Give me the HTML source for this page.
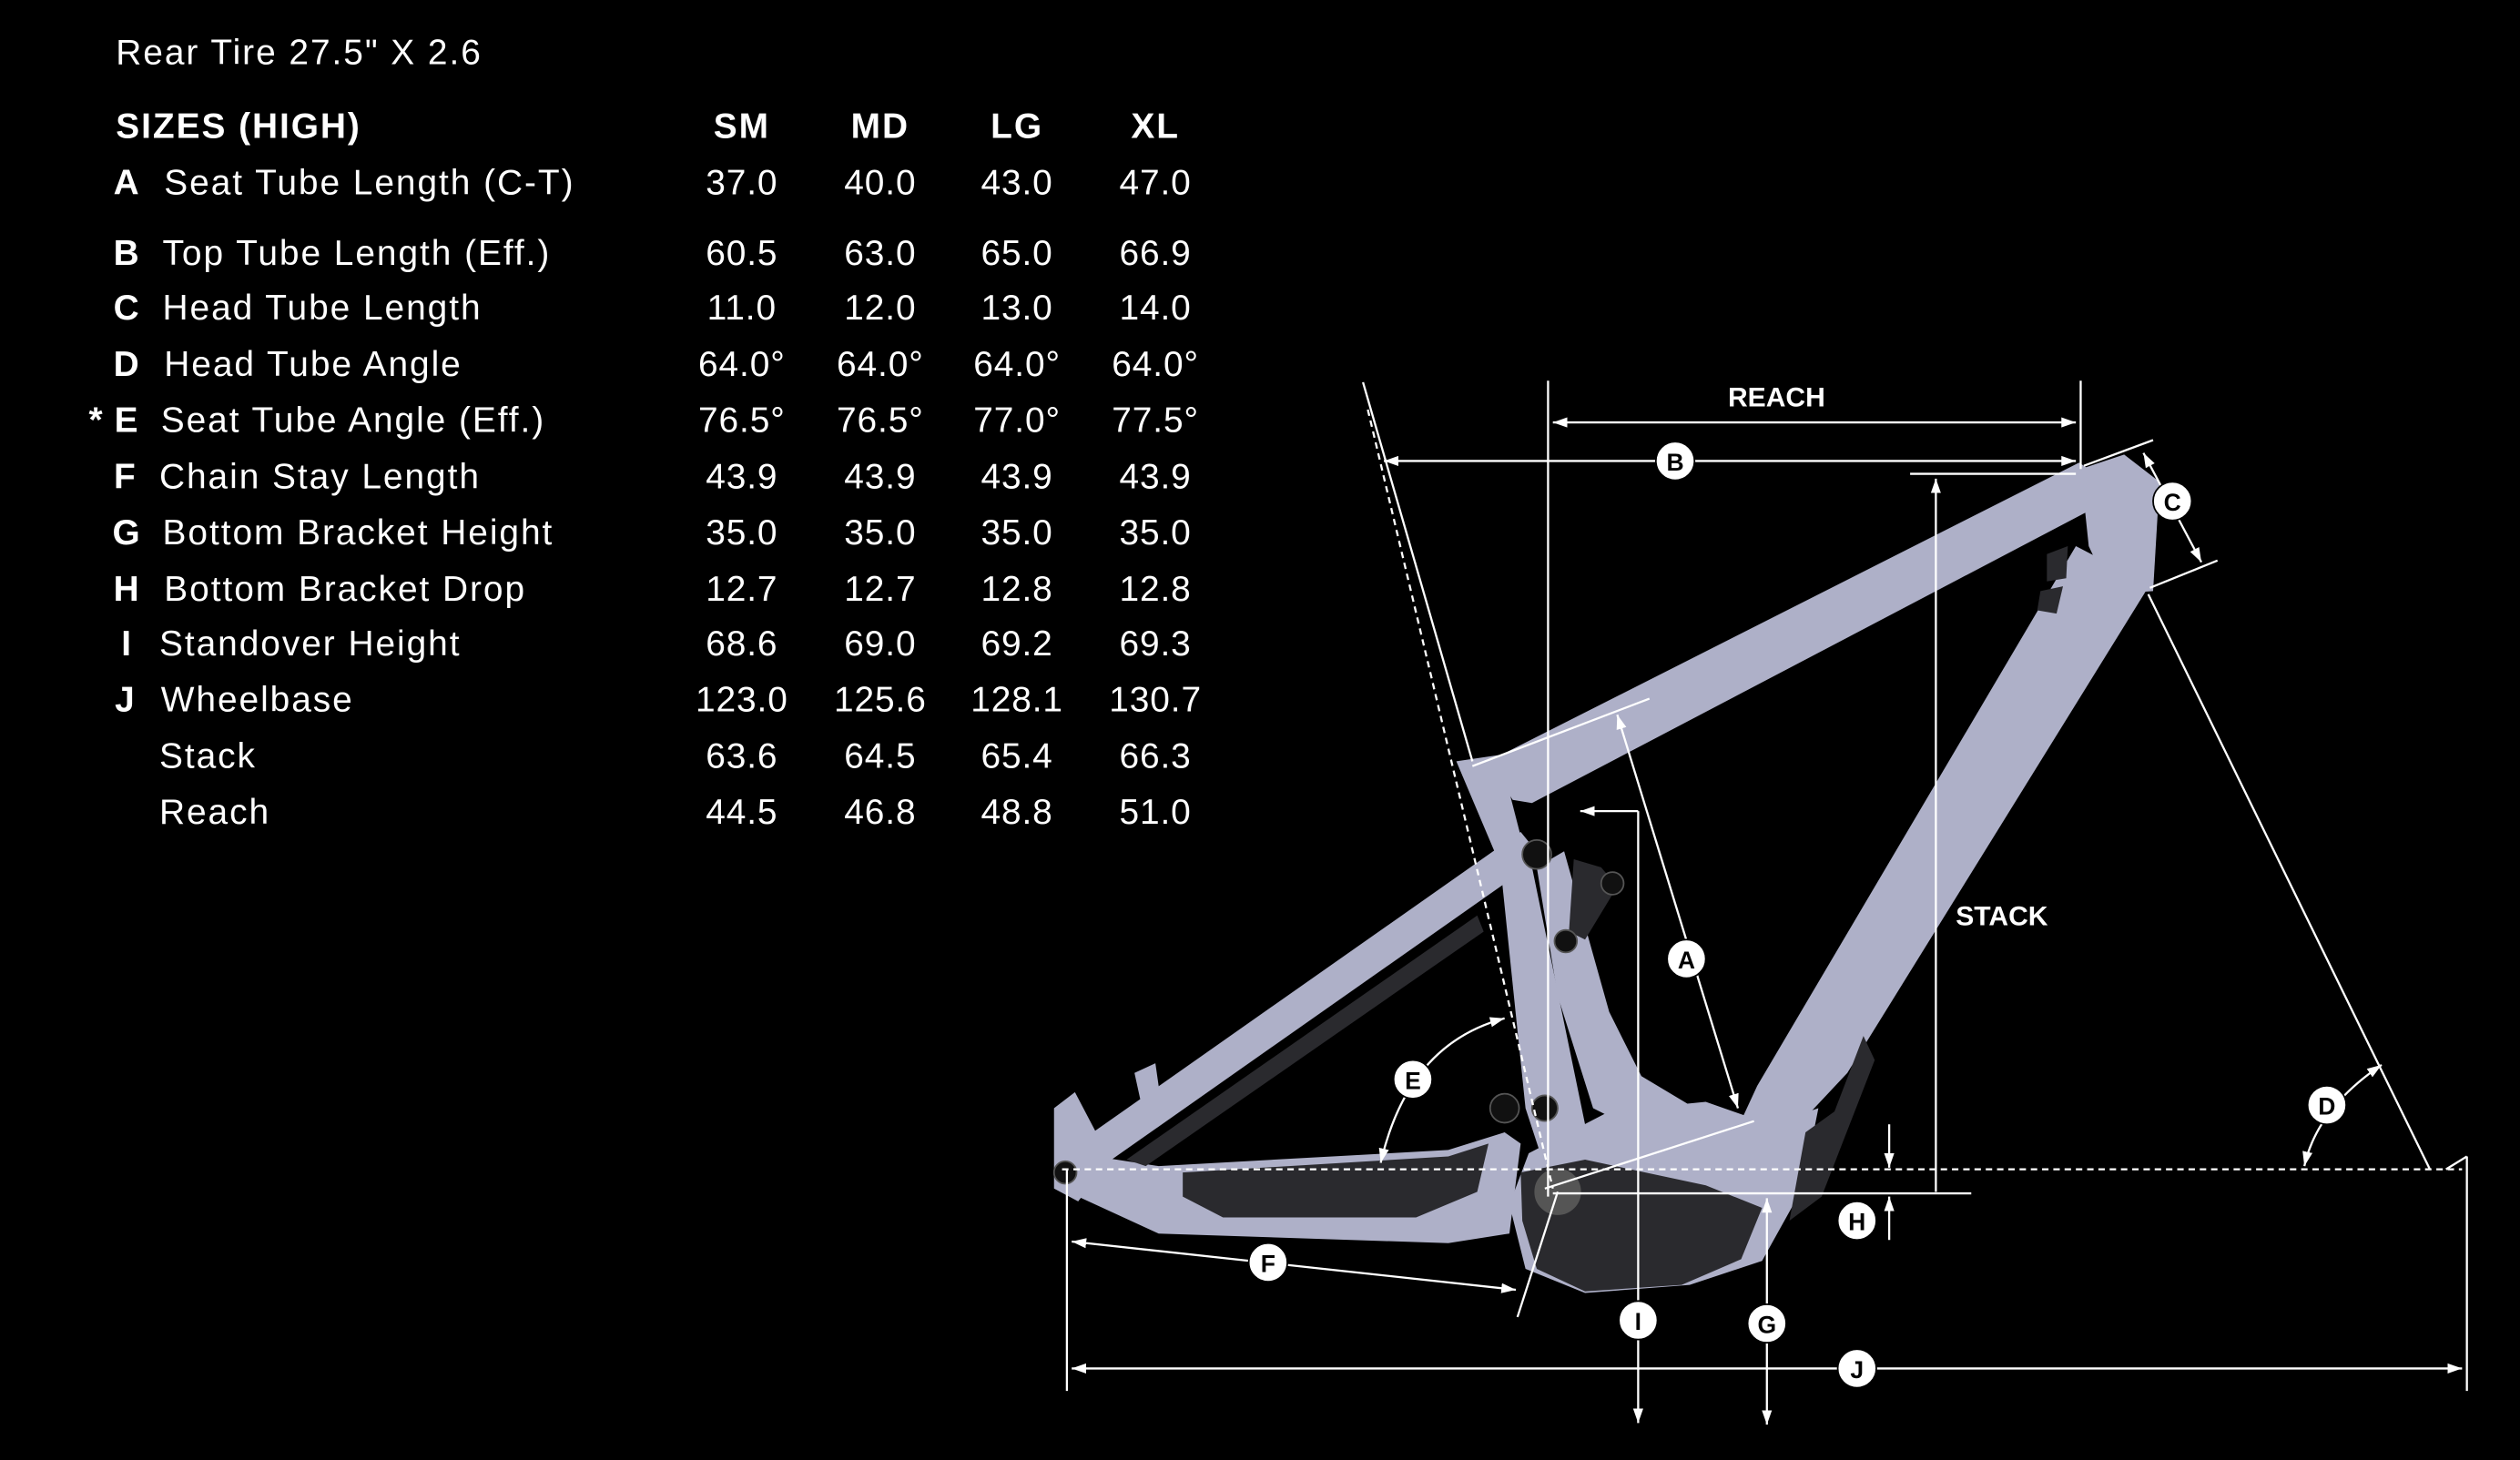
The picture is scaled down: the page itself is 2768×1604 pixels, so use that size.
<!DOCTYPE html>
<html><head><meta charset="utf-8"><style>
html,body{margin:0;padding:0;background:#000;}
svg{display:block}
text{font-family:"Liberation Sans",sans-serif;fill:#fff}
</style></head><body>
<svg width="2768" height="1604" viewBox="0 0 1566 909" preserveAspectRatio="none" xmlns="http://www.w3.org/2000/svg">
<defs>
<marker id="ar" viewBox="0 0 10 10" refX="10" refY="5" markerWidth="9" markerHeight="9" orient="auto-start-reverse" markerUnits="userSpaceOnUse"><path d="M0,1.5 L10,5 L0,8.5 Z" fill="#fff"/></marker>
</defs>
<rect width="1566" height="909" fill="#000"/>
<g font-size="22" letter-spacing="1.1">
<text x="72" y="40">Rear Tire 27.5" X 2.6</text>
<text x="72" y="86" font-weight="bold">SIZES (HIGH)</text>
<g font-weight="bold" text-anchor="middle"><text x="461" y="86">SM</text><text x="547" y="86">MD</text><text x="632" y="86">LG</text><text x="718" y="86">XL</text></g>
<g font-weight="bold" text-anchor="middle">
<text x="79" y="121">A</text><text x="79" y="165">B</text><text x="79" y="199">C</text><text x="79" y="234">D</text><text x="79" y="269">E</text><text x="60" y="269">*</text><text x="78" y="304">F</text><text x="79" y="339">G</text><text x="79" y="374">H</text><text x="79" y="408">I</text><text x="78" y="443">J</text>
</g>
<text x="102" y="121">Seat Tube Length (C-T)</text>
<text x="101" y="165">Top Tube Length (Eff.)</text>
<text x="101" y="199">Head Tube Length</text>
<text x="102" y="234">Head Tube Angle</text>
<text x="100" y="269">Seat Tube Angle (Eff.)</text>
<text x="99" y="304">Chain Stay Length</text>
<text x="101" y="339">Bottom Bracket Height</text>
<text x="102" y="374">Bottom Bracket Drop</text>
<text x="99" y="408">Standover Height</text>
<text x="100" y="443">Wheelbase</text>
<text x="99" y="478">Stack</text>
<text x="99" y="513">Reach</text>
<g text-anchor="middle" letter-spacing="0.5">
<text x="461" y="121">37.0</text><text x="547" y="121">40.0</text><text x="632" y="121">43.0</text><text x="718" y="121">47.0</text>
<text x="461" y="165">60.5</text><text x="547" y="165">63.0</text><text x="632" y="165">65.0</text><text x="718" y="165">66.9</text>
<text x="461" y="199">11.0</text><text x="547" y="199">12.0</text><text x="632" y="199">13.0</text><text x="718" y="199">14.0</text>
<text x="461" y="234">64.0°</text><text x="547" y="234">64.0°</text><text x="632" y="234">64.0°</text><text x="718" y="234">64.0°</text>
<text x="461" y="269">76.5°</text><text x="547" y="269">76.5°</text><text x="632" y="269">77.0°</text><text x="718" y="269">77.5°</text>
<text x="461" y="304">43.9</text><text x="547" y="304">43.9</text><text x="632" y="304">43.9</text><text x="718" y="304">43.9</text>
<text x="461" y="339">35.0</text><text x="547" y="339">35.0</text><text x="632" y="339">35.0</text><text x="718" y="339">35.0</text>
<text x="461" y="374">12.7</text><text x="547" y="374">12.7</text><text x="632" y="374">12.8</text><text x="718" y="374">12.8</text>
<text x="461" y="408">68.6</text><text x="547" y="408">69.0</text><text x="632" y="408">69.2</text><text x="718" y="408">69.3</text>
<text x="461" y="443">123.0</text><text x="547" y="443">125.6</text><text x="632" y="443">128.1</text><text x="718" y="443">130.7</text>
<text x="461" y="478">63.6</text><text x="547" y="478">64.5</text><text x="632" y="478">65.4</text><text x="718" y="478">66.3</text>
<text x="461" y="513">44.5</text><text x="547" y="513">46.8</text><text x="632" y="513">48.8</text><text x="718" y="513">51.0</text>
</g>
</g>

<!-- FRAME -->
<g fill="#aeb0c8">
<polygon points="655,722 945,518 958,534 668,738"/>
<polygon points="655,725 668,718 720,726 900,716 935,705 945,712 938,768 900,774 720,768 670,745"/>
<polygon points="655,690 668,680 690,722 670,748 655,740"/>
<polygon points="705,668 718,662 722,690 712,700"/>
<polygon points="905,474 932,470 950,540 935,545"/>
<polygon points="932,535 950,530 985,700 965,742 948,690"/>
<!-- top tube -->
<polygon points="925,474 1292,288 1310,300 1302,316 952,500 940,498"/>
<polygon points="955,540 972,530 1000,630 1020,670 1050,688 1010,700 990,690 968,620"/>
<!-- down tube -->
<polygon points="1290,340 1336,364 1148,668 1118,700 1080,702 1092,676"/>
<!-- head tube -->
<polygon points="1293,292 1320,283 1342,300 1338,368 1312,370 1298,340"/>
<polygon points="950,718 1000,692 1060,686 1100,700 1130,690 1120,740 1095,785 1050,800 985,805 948,790 938,750"/>
</g>
<g fill="#2a2a2e">
<polygon points="735,730 900,720 925,712 918,742 880,758 760,758 735,745"/>
<polygon points="945,730 985,722 1060,738 1095,752 1082,784 1045,800 985,804 955,790 946,760"/>
<polygon points="700,722 918,570 922,580 712,726"/>
<polygon points="1122,705 1140,692 1158,645 1165,660 1132,745 1112,760"/>
<polygon points="978,535 995,540 1005,552 985,585 975,580"/>
<polygon points="1272,345 1285,340 1284,360 1272,362"/>
<polygon points="1268,368 1282,365 1278,382 1266,380"/>
</g>
<g fill="#111" stroke="#555" stroke-width="1">
<circle cx="955" cy="532" r="9"/><circle cx="1002" cy="550" r="7"/><circle cx="973" cy="586" r="7"/>
<circle cx="935" cy="690" r="9"/><circle cx="960" cy="690" r="8"/><circle cx="662" cy="730" r="7"/>
<circle cx="968" cy="742" r="14" fill="#555"/>
</g>

<g stroke="#fff" stroke-width="1.3" fill="none">
<line x1="962" y1="237" x2="962" y2="745"/>
<line x1="1293" y1="237" x2="1293" y2="292"/>
<line x1="965" y1="263" x2="1290" y2="263" marker-start="url(#ar)" marker-end="url(#ar)"/>
<line x1="860" y1="287" x2="1290" y2="287" marker-start="url(#ar)" marker-end="url(#ar)"/>
<line x1="847" y1="238" x2="915" y2="474"/>
<line x1="850" y1="255" x2="965" y2="740" stroke-dasharray="4,3"/>
<line x1="1187" y1="295" x2="1290" y2="295"/>
<line x1="1203" y1="298" x2="1203" y2="742" marker-start="url(#ar)"/>
<line x1="1295" y1="290" x2="1338" y2="274"/>
<line x1="1336" y1="366" x2="1378" y2="349"/>
<line x1="1332" y1="282" x2="1368" y2="350" marker-start="url(#ar)" marker-end="url(#ar)"/>
<line x1="1335" y1="370" x2="1510" y2="728"/>
<line x1="660" y1="728" x2="1530" y2="728" stroke-dasharray="4,3"/>
<line x1="1520" y1="728" x2="1533" y2="720"/>
<path d="M1480,663 Q1440,690 1432,726" marker-start="url(#ar)" marker-end="url(#ar)"/>
<line x1="915" y1="477" x2="1025" y2="435"/>
<line x1="960" y1="740" x2="1090" y2="698"/>
<line x1="1005" y1="445" x2="1080" y2="690" marker-start="url(#ar)" marker-end="url(#ar)"/>
<line x1="982" y1="505" x2="1018" y2="505" marker-start="url(#ar)"/>
<line x1="1018" y1="505" x2="1018" y2="886" marker-end="url(#ar)"/>
<path d="M935,634 Q875,650 858,724" marker-start="url(#ar)" marker-end="url(#ar)"/>
<line x1="666" y1="773" x2="942" y2="803" marker-start="url(#ar)" marker-end="url(#ar)"/>
<line x1="968" y1="742" x2="943" y2="820"/>
<line x1="663" y1="728" x2="663" y2="866"/>
<line x1="1533" y1="720" x2="1533" y2="866"/>
<line x1="666" y1="852" x2="1530" y2="852" marker-start="url(#ar)" marker-end="url(#ar)"/>
<line x1="965" y1="743" x2="1225" y2="743"/>
<line x1="1098" y1="746" x2="1098" y2="887" marker-start="url(#ar)" marker-end="url(#ar)"/>
<line x1="1174" y1="700" x2="1174" y2="727" marker-end="url(#ar)"/>
<line x1="1174" y1="772" x2="1174" y2="745" marker-end="url(#ar)"/>
</g>
<g font-size="17" font-weight="bold">
<text x="1104" y="253" text-anchor="middle">REACH</text>
<text x="1244" y="576" text-anchor="middle">STACK</text>
</g>
<g font-size="15" font-weight="bold" text-anchor="middle">
<g fill="#fff" stroke="#000" stroke-width="1">
<circle cx="1041" cy="287" r="12"/><circle cx="1350" cy="312" r="12"/><circle cx="1446" cy="688" r="12"/>
<circle cx="1048" cy="597" r="12"/><circle cx="878" cy="672" r="12"/><circle cx="788" cy="786" r="12"/>
<circle cx="1018" cy="822" r="12"/><circle cx="1098" cy="824" r="12"/><circle cx="1154" cy="852" r="12"/>
<circle cx="1154" cy="760" r="12"/>
</g>
<text x="1041" y="293" style="fill:#000">B</text><text x="1350" y="318" style="fill:#000">C</text><text x="1446" y="694" style="fill:#000">D</text>
<text x="1048" y="603" style="fill:#000">A</text><text x="878" y="678" style="fill:#000">E</text><text x="788" y="792" style="fill:#000">F</text>
<text x="1018" y="828" style="fill:#000">I</text><text x="1098" y="830" style="fill:#000">G</text><text x="1154" y="858" style="fill:#000">J</text>
<text x="1154" y="766" style="fill:#000">H</text>
</g>
</svg>
</body></html>
